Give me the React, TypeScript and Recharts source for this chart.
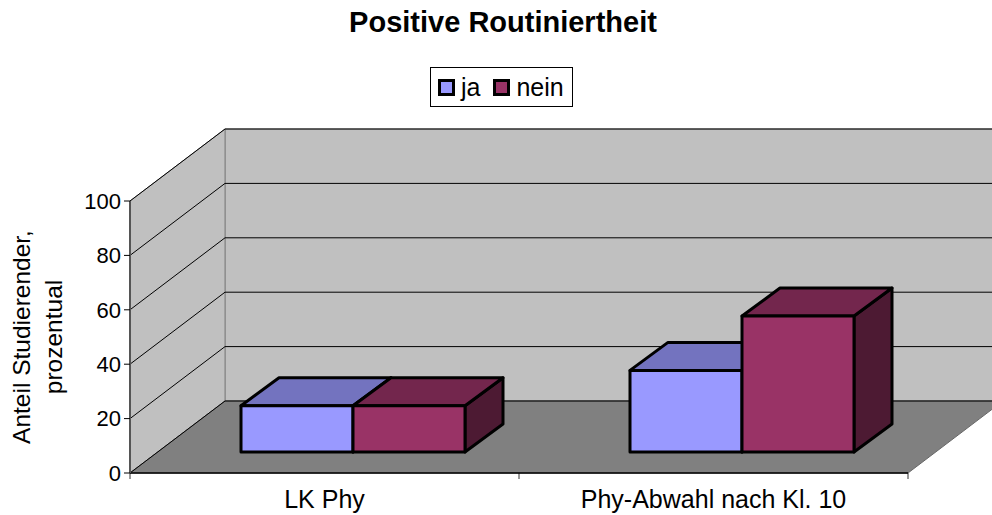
import { Bar, BarChart, CartesianGrid, Customized, Legend, XAxis, YAxis, usePlotArea } from "recharts"

const categories = ["LK Phy", "Phy-Abwahl nach Kl. 10"]
const jaValues = [17, 30]
const neinValues = [17, 50]
const valueTicks = [0, 20, 40, 60, 80, 100]

const data = categories.map((name, i) => ({ name, ja: jaValues[i], nein: neinValues[i] }))

// perspective offsets of the old Excel 3D look
const WALL_DX = 95
const WALL_DY = -72
const BAR_DX = 28
const BAR_DY = -21
const DEPTH_DX = 38
const DEPTH_DY = -28

function Room() {
  const plot = usePlotArea()
  if (!plot) return null
  const { x, y, width, height } = plot
  const right = x + width
  const bottom = y + height
  const pts = (list: number[][]) => list.map((p) => p.join(",")).join(" ")
  return (
    <g>
      <text x={503} y={32} textAnchor="middle" fontSize={29} fontWeight="bold" fill="#000">
        Positive Routiniertheit
      </text>
      <polygon
        points={pts([[x + WALL_DX, y + WALL_DY], [right + WALL_DX, y + WALL_DY], [right + WALL_DX, bottom + WALL_DY], [x + WALL_DX, bottom + WALL_DY]])}
        fill="#c0c0c0"
        stroke="#808080"
      />
      <polygon
        points={pts([[x, y], [x + WALL_DX, y + WALL_DY], [x + WALL_DX, bottom + WALL_DY], [x, bottom]])}
        fill="#c0c0c0"
        stroke="#808080"
      />
      <polygon
        points={pts([[x, bottom], [x + WALL_DX, bottom + WALL_DY], [right + WALL_DX, bottom + WALL_DY], [right, bottom]])}
        fill="#808080"
        stroke="#666"
      />
      {[0, 0.5, 1].map((f) => (
        <line key={f} x1={x + width * f} x2={x + width * f} y1={bottom} y2={bottom + 6} stroke="#333" />
      ))}
    </g>
  )
}

function WallLine(props: any) {
  const { x1, y1, x2 } = props
  return (
    <g>
      <line x1={x1} y1={y1} x2={x1 + WALL_DX} y2={y1 + WALL_DY} stroke="#000" />
      <line x1={x1 + WALL_DX} y1={y1 + WALL_DY} x2={x2 + WALL_DX} y2={y1 + WALL_DY} stroke="#000" />
    </g>
  )
}

function Box(props: any) {
  const { x, y, width, height, fill, topFill, sideFill } = props
  const l = x + BAR_DX
  const r = l + width
  const t = y + BAR_DY
  const b = t + height
  return (
    <g stroke="#000" strokeWidth={3} strokeLinejoin="round">
      <polygon points={`${r},${t} ${r + DEPTH_DX},${t + DEPTH_DY} ${r + DEPTH_DX},${b + DEPTH_DY} ${r},${b}`} fill={sideFill} />
      <polygon points={`${l},${t} ${l + DEPTH_DX},${t + DEPTH_DY} ${r + DEPTH_DX},${t + DEPTH_DY} ${r},${t}`} fill={topFill} />
      <rect x={l} y={t} width={width} height={height} fill={fill} />
    </g>
  )
}

function LegendBox({ payload }: any) {
  return (
    <div
      style={{
        display: "flex",
        alignItems: "center",
        boxSizing: "border-box",
        height: 40,
        paddingLeft: 7,
        border: "1px solid #000",
        background: "#fff",
        fontSize: 25,
      }}
    >
      {(payload || []).map((item: any) => (
        <span key={item.value} style={{ display: "flex", alignItems: "center", marginRight: 13 }}>
          <span style={{ width: 11, height: 11, marginRight: 6, border: "3px solid #000", background: item.color }} />
          {item.value}
        </span>
      ))}
    </div>
  )
}

function AxisTitle() {
  const cy = 337
  return (
    <g fontSize={24.5} fill="#000" textAnchor="middle">
      <text transform={`translate(30,${cy}) rotate(-90)`}>Anteil Studierender,</text>
      <text transform={`translate(62,${cy}) rotate(-90)`}>prozentual</text>
    </g>
  )
}

export default function App() {
  return (
    <div style={{ position: "absolute", left: 0, top: 0, fontFamily: "Liberation Sans" }}>
      <BarChart
        width={992}
        height={515}
        data={data}
        margin={{ top: 201, right: 84, bottom: 0, left: 0 }}
        barSize={112}
        barGap={0}
      >
        <Customized component={<Room />} />
        <CartesianGrid zIndex={100} vertical={false} horizontal={(p: any) => <WallLine key={p.key} {...p} />} />
        <XAxis
          dataKey="name"
          height={42}
          tickLine={false}
          axisLine={{ stroke: "#000", strokeWidth: 1.5 }}
          tick={{ fill: "#000", fontSize: 25 }}
          tickMargin={11}
        />
        <YAxis
          type="number"
          domain={[0, 100]}
          ticks={valueTicks}
          width={130}
          tickSize={6}
          tickMargin={3}
          axisLine={{ stroke: "#555", strokeWidth: 2 }}
          tickLine={{ stroke: "#000" }}
          tick={{ fill: "#000", fontSize: 22 }}
          label={<AxisTitle />}
        />
        <Legend
          verticalAlign="middle"
          content={<LegendBox />}
          wrapperStyle={{ left: 430, top: 67, width: 143, height: 40 }}
        />
        <Bar
          dataKey="ja"
          name="ja"
          fill="#9999ff"
          isAnimationActive={false}
          shape={(p: any) => <Box {...p} topFill="#7373bf" sideFill="#4d4d80" />}
        />
        <Bar
          dataKey="nein"
          name="nein"
          fill="#993366"
          isAnimationActive={false}
          shape={(p: any) => <Box {...p} topFill="#73264d" sideFill="#4d1a33" />}
        />
      </BarChart>
    </div>
  )
}
